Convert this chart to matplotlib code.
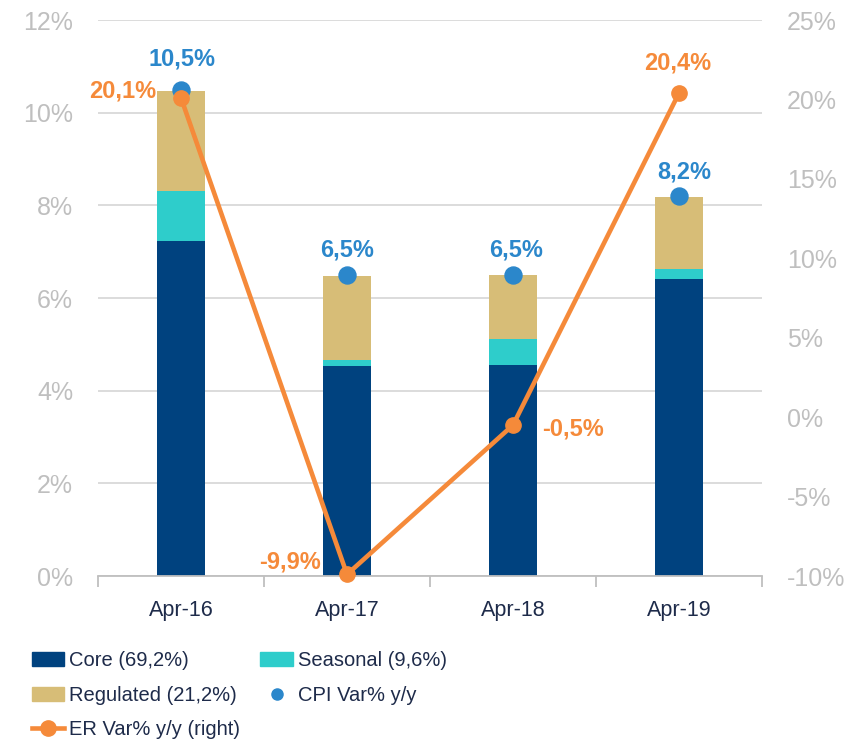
import matplotlib
matplotlib.use("Agg")
import matplotlib.pyplot as plt
from matplotlib.patches import Patch
from matplotlib.lines import Line2D
import numpy as np

# ---- data ----
categories = ["Apr-16", "Apr-17", "Apr-18", "Apr-19"]
core = [7.23, 4.53, 4.55, 6.41]
seasonal = [1.08, 0.13, 0.57, 0.22]
regulated = [2.16, 1.81, 1.38, 1.55]
cpi = [10.5, 6.5, 6.5, 8.2]
er = [20.1, -9.9, -0.5, 20.4]
cpi_labels = ["10,5%", "6,5%", "6,5%", "8,2%"]
er_labels = ["20,1%", "-9,9%", "-0,5%", "20,4%"]
left_ticks = [0, 2, 4, 6, 8, 10, 12]
right_ticks = [-10, -5, 0, 5, 10, 15, 20, 25]
legend_labels = ["Core (69,2%)", "Seasonal (9,6%)", "Regulated (21,2%)",
                 "CPI Var% y/y", "ER Var% y/y (right)"]

# ---- style ----
C_CORE = "#00427F"
C_SEAS = "#2ECDCB"
C_REG = "#D7BD77"
C_CPI = "#2B87CB"
C_ER = "#F58A3A"
C_GRID = "#D9D9D9"
C_TICK = "#BFBFBF"
C_TEXT = "#1E2B4A"

plt.rcParams["font.family"] = ["Liberation Sans", "DejaVu Sans"]

fig = plt.figure(figsize=(8.56, 7.41), dpi=100)
ax = fig.add_axes([98/856, 1-576/741, (762-98)/856, (576-20)/741])
x = np.arange(len(categories))
w = 0.29

ax.bar(x, core, w, color=C_CORE, zorder=2)
ax.bar(x, seasonal, w, bottom=core, color=C_SEAS, zorder=2)
bot2 = np.array(core) + np.array(seasonal)
ax.bar(x, regulated, w, bottom=bot2, color=C_REG, zorder=2)
ax.scatter(x, cpi, s=150, color=C_CPI, zorder=3, clip_on=False)

ax.set_ylim(0, 12)
ax.set_yticks(left_ticks)
ax.set_yticklabels([f"{t}%" for t in left_ticks])
ax.set_xlim(-0.5, 3.5)
ax.set_xticks(x)
ax.set_xticklabels(categories, fontsize=15.5, color=C_TEXT)
ax.set_xticks(np.arange(-0.5, 4, 1), minor=True)
ax.tick_params(axis="x", which="major", length=0, pad=17)
ax.tick_params(axis="x", which="minor", length=8, width=1.3, color=C_TICK)
ax.tick_params(axis="y", length=0, pad=18, labelsize=18, labelcolor=C_TICK)
ax.grid(axis="y", color=C_GRID, lw=1.3, zorder=0)
for s in ["left", "right", "top"]:
    ax.spines[s].set_visible(False)
ax.spines["bottom"].set_color(C_TICK)
ax.spines["bottom"].set_linewidth(1.3)
ax.spines["bottom"].set_zorder(4)

ax2 = ax.twinx()
ax2.plot(x, er, color=C_ER, lw=3.3, marker="o", ms=11, zorder=5, clip_on=False)
ax2.set_ylim(-10, 25)
ax2.set_yticks(right_ticks)
ax2.set_yticklabels([f"{t}%" for t in right_ticks])
ax2.tick_params(axis="y", length=0, pad=18, labelsize=18, labelcolor=C_TICK)
for s in ax2.spines.values():
    s.set_visible(False)

# labels
cpi_off = [(1, 22), (0, 18), (2, 18), (4, 17)]
for xi, yi, lab, off in zip(x, cpi, cpi_labels, cpi_off):
    ax.annotate(lab, (xi, yi), xytext=off, textcoords="offset points",
                ha="center", va="center", fontsize=17, fontweight="bold",
                color=C_CPI, zorder=6)
er_off = [(-18, 5, "right"), (-19, 9, "right"), (21, -3, "left"), (-1, 22, "center")]
for xi, yi, lab, (dx, dy, ha) in zip(x, er, er_labels, er_off):
    ax2.annotate(lab, (xi, yi), xytext=(dx, dy), textcoords="offset points",
                 ha=ha, va="center", fontsize=17, fontweight="bold",
                 color=C_ER, zorder=6)

handles = [Patch(color=C_CORE), Patch(color=C_REG),
           Line2D([], [], color=C_ER, lw=3.3, marker="o", ms=11),
           Patch(color=C_SEAS),
           Line2D([], [], color=C_CPI, lw=0, marker="o", ms=8)]
labels = [legend_labels[0], legend_labels[2], legend_labels[4],
          legend_labels[1], legend_labels[3]]
leg = fig.legend(handles, labels, ncol=2, loc="upper left",
                 bbox_to_anchor=(32/856, 1-651/741), frameon=False,
                 prop={"size": 14.5},
                 handlelength=1.6, handleheight=0.7, handletextpad=0.25,
                 labelspacing=0.78, columnspacing=1.0, borderpad=0,
                 borderaxespad=0)
for t in leg.get_texts():
    t.set_color(C_TEXT)

fig.savefig("out.png", dpi=100)
